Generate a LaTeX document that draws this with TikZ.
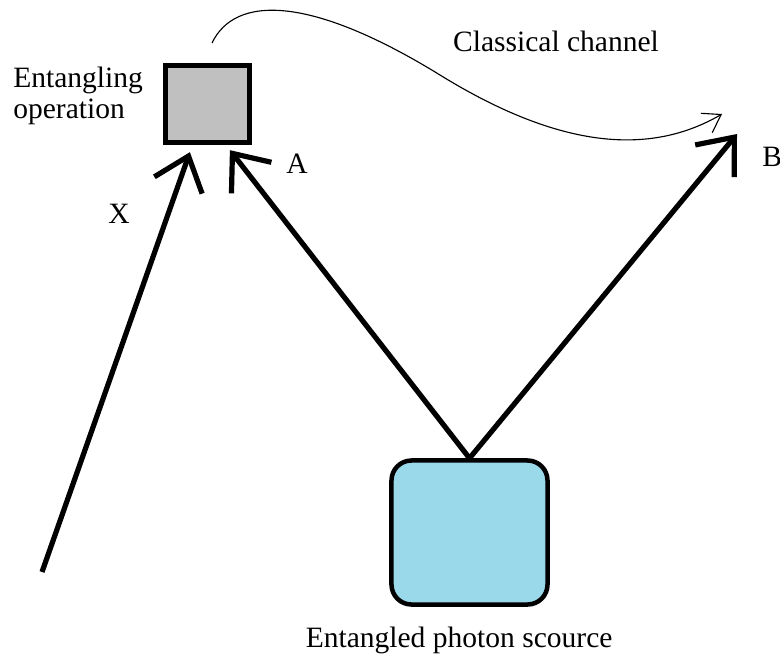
\documentclass[tikz,border=0pt]{standalone}
\usepackage{fontspec}
\setmainfont{Liberation Serif}
\usetikzlibrary{arrows.meta,positioning}
\definecolor{opgray}{RGB}{192,192,192}
\definecolor{srcblue}{RGB}{153,217,234}

\begin{document}
\begin{tikzpicture}[
  x=0.025cm, y=-0.025cm,
  opbox/.style={draw, fill=opgray, line width=3.5pt, minimum width=2.1cm, minimum height=1.925cm, inner sep=0pt},
  srcbox/.style={draw, fill=srcblue, line width=3.2pt, rounded corners=0.5cm, minimum width=3.9cm, minimum height=3.6cm, inner sep=0pt},
  lbl/.style={font=\fontsize{21}{21.5}\selectfont, inner sep=0pt},
  photon/.style={-{Straight Barb[length=22pt, width=36pt]}, line width=3.7pt},
  chan/.style={-{Straight Barb[length=12pt, width=16pt]}, line width=0.8pt}
]
  \useasboundingbox (0,0) rectangle (780,658);
  \node[opbox] (entop) at (207.5,104) {};
  \node[srcbox] (src) at (469.5,532.5) {};
  \node[lbl, align=left, anchor=north west] (oplabel) at (13,67) {Entangling\\operation};
  \node[lbl, anchor=base] (chlabel) at (556,51) {Classical channel};
  \node[lbl, anchor=base] (alabel) at (297,173) {A};
  \node[lbl, anchor=base] (xlabel) at (119,223) {X};
  \node[lbl, anchor=base west] (blabel) at (762,166) {B};
  \node[lbl, anchor=north, below=0.5cm of src, xshift=-0.26cm] (srclabel) {Entangled photon scource};
  \coordinate (xin) at (42,572);
  \coordinate (btip) at (737,134);
  \coordinate (chstart) at (212,43);
  \coordinate (chend) at (722,114);
  % photon paths
  \draw[photon] (xin) -- ([xshift=-0.44cm, yshift=-0.18cm]entop.south);
  \draw[photon] (src.north) -- ([xshift=0.56cm, yshift=-0.13cm]entop.south);
  \draw[photon] (src.north) -- (btip);
  % classical channel
  \draw[chan] (chstart) .. controls (235,-5) and (310,-5) .. (440,75)
    .. controls (560,149) and (650,156) .. (chend);
\end{tikzpicture}
\end{document}
